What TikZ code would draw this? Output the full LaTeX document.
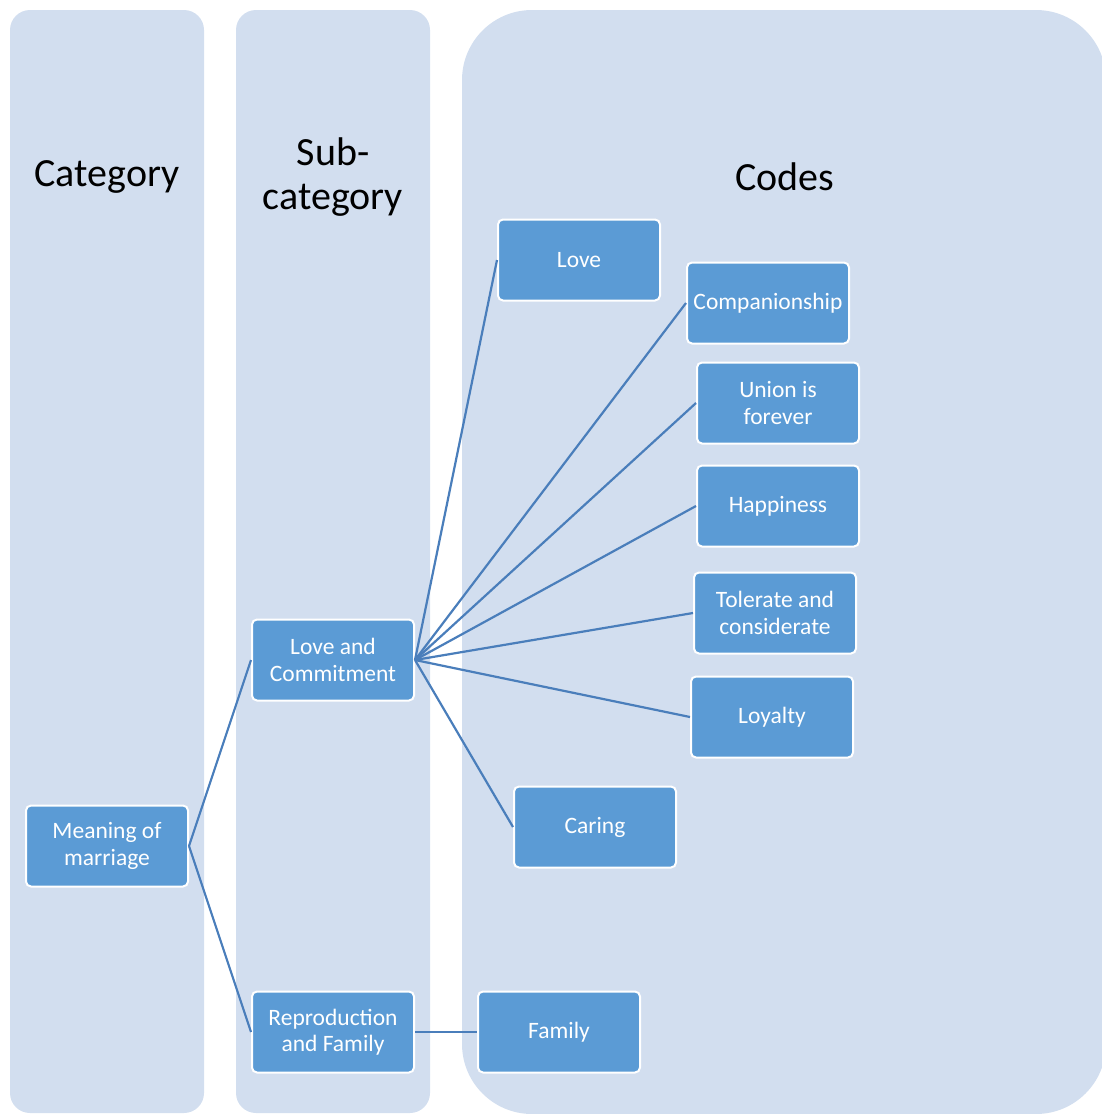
\documentclass[tikz,border=0pt]{standalone}
\usepackage{fontspec}
\setmainfont{Carlito}
\definecolor{panelbg}{HTML}{D2DEEF}
\definecolor{boxblue}{HTML}{5B9BD5}
\definecolor{linkblue}{HTML}{4A7EBB}
\tikzset{
  panel/.style={fill=panelbg},
  heading/.style={font=\fontsize{40}{44}\selectfont, align=center, text=black},
  codebox/.style={rectangle, rounded corners=5pt, fill=boxblue, draw=white,
    line width=2pt, minimum width=162pt, minimum height=81pt, inner sep=1pt,
    text=white, align=center, font=\fontsize{23.5}{26.5}\selectfont},
  link/.style={draw=linkblue, line width=2.2pt}
}
\begin{document}
\begin{tikzpicture}[x=1pt,y=-1pt]
\useasboundingbox (0,0) rectangle (1102,1114);
\begin{scope}
  \clip (0,0) rectangle (1102,1114);
  % three column panels
  \fill[panel, rounded corners=20pt] (10,10) rectangle (204,1113);
  \fill[panel, rounded corners=20pt] (236,10) rectangle (430,1113);
  \fill[panel, rounded corners=70pt] (462,10) rectangle (1106,1114);
\end{scope}

% column headings
\node[heading] (hcat)  at (107,177) {Category};
\node[heading] (hsub)  at (333,177) {Sub-\\category};
\node[heading] (hcode) at (785,177) {Codes};

% category
\node[codebox] (mean) at (107,846) {Meaning of\\marriage};

% sub-categories
\node[codebox] (lc)  at (333,660)  {Love and\\Commitment};
\node[codebox] (rf)  at (333,1032) {Reproduction\\and Family};

% codes
\node[codebox] (love)  at (579,260) {Love};
\node[codebox] (comp)  at (768,303) {Companionship};
\node[codebox] (union) at (778,403) {Union is\\forever};
\node[codebox] (happy) at (778,506) {Happiness};
\node[codebox] (toler) at (775,613) {Tolerate and\\considerate};
\node[codebox] (loyal) at (772,717) {Loyalty};
\node[codebox] (care)  at (595,827) {Caring};
\node[codebox] (fam)   at (559,1032) {Family};

% connectors
\draw[link] (mean.east) -- (lc.west);
\draw[link] (mean.east) -- (rf.west);
\foreach \c in {love,comp,union,happy,toler,loyal,care}
  \draw[link] (lc.east) -- (\c.west);
\draw[link] (rf.east) -- (fam.west);
\end{tikzpicture}
\end{document}
